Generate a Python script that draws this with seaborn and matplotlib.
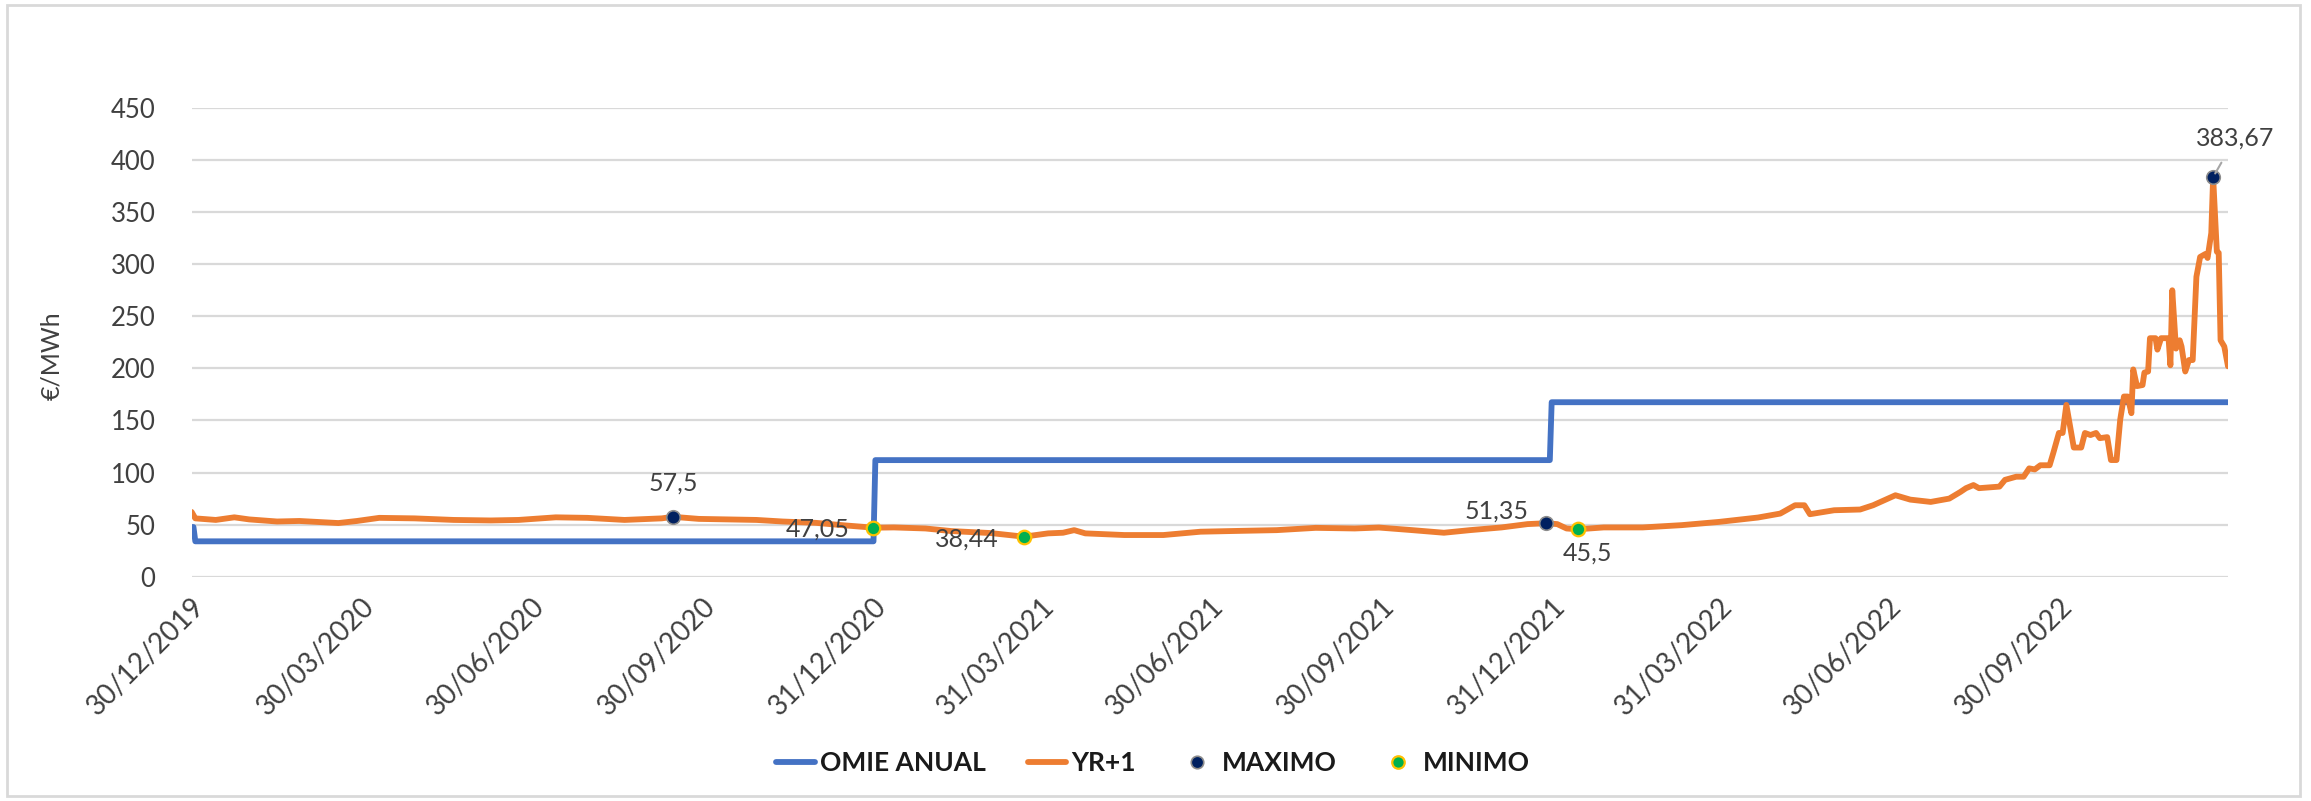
import matplotlib
matplotlib.use("Agg")
import matplotlib.pyplot as plt
from matplotlib.lines import Line2D
from matplotlib.patches import Rectangle
import seaborn as sns
import pandas as pd

# ---------------- data ----------------
omie_dates = ["2019-12-30", "2019-12-31", "2020-01-01", "2020-12-31", "2021-01-01",
              "2021-12-30", "2021-12-31", "2022-12-30"]
omie_values = [47.68, 47.68, 33.96, 33.96, 111.93, 111.93, 167.52, 167.52]

yr1_dates = [
    "2019-12-30", "2020-01-01", "2020-01-12", "2020-01-22", "2020-01-30", "2020-02-14",
    "2020-02-26", "2020-03-18", "2020-03-28", "2020-04-09", "2020-04-28", "2020-05-19",
    "2020-06-08", "2020-06-23", "2020-07-13", "2020-07-30", "2020-08-19", "2020-09-08",
    "2020-09-14", "2020-09-28", "2020-10-29", "2020-11-12", "2020-11-30", "2020-12-14",
    "2020-12-31", "2021-01-11", "2021-01-28", "2021-02-11", "2021-03-04", "2021-03-22",
    "2021-04-04", "2021-04-12", "2021-04-18", "2021-04-24", "2021-05-15", "2021-06-05",
    "2021-06-25", "2021-07-16", "2021-08-05", "2021-08-26", "2021-09-16", "2021-09-29",
    "2021-10-17", "2021-11-03", "2021-11-17", "2021-12-04", "2021-12-18", "2021-12-28",
    "2022-01-03", "2022-01-08", "2022-01-14", "2022-01-28", "2022-02-18", "2022-03-11",
    "2022-03-31", "2022-04-21", "2022-05-03", "2022-05-11", "2022-05-16", "2022-05-19",
    "2022-06-01", "2022-06-15", "2022-06-22", "2022-07-04", "2022-07-12", "2022-07-23",
    "2022-08-02", "2022-08-08", "2022-08-11", "2022-08-15", "2022-08-18", "2022-08-29",
    "2022-09-01", "2022-09-07", "2022-09-11", "2022-09-14", "2022-09-17", "2022-09-20",
    "2022-09-25", "2022-09-27", "2022-09-30", "2022-10-02", "2022-10-04", "2022-10-08",
    "2022-10-12", "2022-10-14", "2022-10-17", "2022-10-20", "2022-10-22", "2022-10-26",
    "2022-10-28", "2022-10-31", "2022-11-02", "2022-11-04", "2022-11-06", "2022-11-08",
    "2022-11-09", "2022-11-11", "2022-11-14", "2022-11-15", "2022-11-17", "2022-11-18",
    "2022-11-21", "2022-11-22", "2022-11-24", "2022-11-28", "2022-11-29", "2022-11-30",
    "2022-12-02", "2022-12-04", "2022-12-05", "2022-12-07", "2022-12-09", "2022-12-11",
    "2022-12-13", "2022-12-15", "2022-12-18", "2022-12-19", "2022-12-21", "2022-12-22",
    "2022-12-24", "2022-12-25", "2022-12-26", "2022-12-28", "2022-12-30",
]
yr1_values = [
    62.2, 56.0, 54.5, 57.0, 55.0, 53.0,
    53.5, 51.5, 53.5, 56.5, 56.0, 54.5,
    54.0, 54.5, 57.0, 56.5, 54.5, 56.0,
    57.5, 55.5, 54.5, 53.0, 51.7, 49.5,
    47.05, 47.3, 46.3, 43.8, 41.9, 38.44,
    41.6, 42.2, 44.7, 41.6, 40.0, 40.0,
    43.2, 44.0, 44.7, 46.9, 46.3, 47.2,
    44.7, 42.2, 44.7, 47.3, 50.5, 51.35,
    50.5, 46.3, 45.5, 47.3, 47.3, 49.5,
    52.6, 56.8, 60.6, 68.6, 68.6, 60.0,
    63.8, 64.5, 68.6, 78.2, 74.0, 71.8,
    75.0, 81.4, 85.0, 88.0, 85.0, 86.5,
    93.0, 96.0, 96.0, 104.0, 103.0, 107.0,
    107.0, 119.0, 138.0, 138.0, 165.0, 124.0,
    124.0, 138.0, 136.0, 138.0, 133.0, 134.0,
    112.0, 112.0, 151.0, 173.0, 173.0, 157.0,
    199.0, 183.0, 184.0, 196.0, 197.0, 229.0,
    229.0, 218.0, 229.0, 229.0, 203.0, 275.0,
    219.0, 227.0, 221.0, 197.0, 208.0, 208.0,
    288.0, 307.0, 310.0, 306.0, 330.0, 383.67,
    312.0, 311.0, 227.0, 221.0, 202.0,
]

max_dates = ["2020-09-14", "2021-12-28", "2022-12-22"]
max_values = [57.5, 51.35, 383.67]
max_labels = ["57,5", "51,35", "383,67"]

min_dates = ["2020-12-31", "2021-03-22", "2022-01-14"]
min_values = [47.05, 38.44, 45.5]
min_labels = ["47,05", "38,44", "45,5"]

tick_dates = ["2019-12-30", "2020-03-30", "2020-06-30", "2020-09-30", "2020-12-31",
              "2021-03-31", "2021-06-30", "2021-09-30", "2021-12-31", "2022-03-31",
              "2022-06-30", "2022-09-30"]
y_ticks = [0, 50, 100, 150, 200, 250, 300, 350, 400, 450]

# ---------------- style ----------------
sns.set_theme(style="white")
plt.rcParams["font.family"] = ["Lato", "DejaVu Sans"]
TXT = "#404040"
BLUE = "#4472C4"
ORANGE = "#ED7D31"
NAVY = "#002060"
GREEN = "#00B050"
GOLD = "#FFC000"
FS = 18
LW = 4.2

W, H = 2311, 801
fig = plt.figure(figsize=(W / 100, H / 100), dpi=100)
fig.patch.set_facecolor("white")

# outer border
fig.patches.append(Rectangle((7 / W, 5 / H), (2300 - 7) / W, (796 - 5) / H,
                             transform=fig.transFigure, fill=False,
                             edgecolor="#d9d9d9", linewidth=2))

left, right = 191.6 / W, 2228 / W
bottom, top = (H - 576.7) / H, (H - 108) / H
ax = fig.add_axes([left, bottom, right - left, top - bottom])

omie_df = pd.DataFrame({"date": pd.to_datetime(omie_dates), "value": omie_values})
yr1_df = pd.DataFrame({"date": pd.to_datetime(yr1_dates), "value": yr1_values})
max_df = pd.DataFrame({"date": pd.to_datetime(max_dates), "value": max_values})
min_df = pd.DataFrame({"date": pd.to_datetime(min_dates), "value": min_values})

sns.lineplot(data=omie_df, x="date", y="value", ax=ax, color=BLUE, linewidth=LW,
             sort=False, zorder=3, solid_capstyle="round", solid_joinstyle="round")
sns.lineplot(data=yr1_df, x="date", y="value", ax=ax, color=ORANGE, linewidth=LW,
             sort=False, zorder=4, solid_capstyle="round", solid_joinstyle="round")
sns.scatterplot(data=max_df, x="date", y="value", ax=ax, color=NAVY, s=95,
                edgecolor="#8c8c8c", linewidth=1.2, zorder=6)
sns.scatterplot(data=min_df, x="date", y="value", ax=ax, color=GREEN, s=95,
                edgecolor=GOLD, linewidth=1.6, zorder=6)

# annotations (offsets in points)
max_offsets = [(0, 24), (-36, 9), (16, 28)]
min_offsets = [(-40, -1), (-41, -2), (7, -17)]
for d, v, lab, off in zip(max_df["date"], max_values, max_labels, max_offsets):
    kw = {}
    if lab == "383,67":
        kw["arrowprops"] = dict(arrowstyle="-", color="#a6a6a6", lw=1.5,
                                shrinkA=8, shrinkB=3)
    ax.annotate(lab, xy=(d, v), xytext=off, textcoords="offset points",
                ha="center", va="center", fontsize=FS, color=TXT, zorder=7,
                annotation_clip=False, **kw)
for d, v, lab, off in zip(min_df["date"], min_values, min_labels, min_offsets):
    ax.annotate(lab, xy=(d, v), xytext=off, textcoords="offset points",
                ha="center", va="center", fontsize=FS, color=TXT, zorder=7,
                annotation_clip=False)

# axes
ax.set_xlim(pd.Timestamp("2019-12-30"), pd.Timestamp("2022-12-30"))
ax.set_ylim(0, 450)
ax.set_yticks(y_ticks)
ax.set_yticklabels([str(t) for t in y_ticks], fontsize=FS + 0.5, color=TXT)
tds = pd.to_datetime(tick_dates)
ax.set_xticks(tds)
ax.set_xticklabels([t.strftime("%d/%m/%Y") for t in tds], rotation=45, ha="right",
                   rotation_mode="anchor", fontsize=FS + 2, color=TXT)
ax.tick_params(axis="x", length=0, pad=12)
ax.tick_params(axis="y", length=0, pad=26)
ax.grid(axis="y", color="#d9d9d9", linewidth=1.6)
ax.grid(axis="x", visible=False)
for s in ax.spines.values():
    s.set_visible(False)
ax.set_xlabel("")
ax.set_ylabel("")
fig.text(52 / W, 1 - 356 / H, "€/MWh", rotation=90, ha="center", va="center",
         fontsize=FS, color=TXT)

# legend
handles = [
    Line2D([], [], color=BLUE, lw=LW, solid_capstyle="round"),
    Line2D([], [], color=ORANGE, lw=LW, solid_capstyle="round"),
    Line2D([], [], ls="none", marker="o", markersize=9, markerfacecolor=NAVY,
           markeredgecolor="#8c8c8c", markeredgewidth=1.2),
    Line2D([], [], ls="none", marker="o", markersize=9, markerfacecolor=GREEN,
           markeredgecolor=GOLD, markeredgewidth=1.6),
]
labels = ["OMIE ANUAL", "YR+1", "MAXIMO", "MINIMO"]
leg = fig.legend(handles, labels, loc="center", bbox_to_anchor=(1153 / W, 1 - 763 / H),
                 ncol=4, frameon=False, handlelength=1.45, handletextpad=0.2,
                 columnspacing=1.6, prop={"size": FS + 1, "weight": "bold"})
for t in leg.get_texts():
    t.set_color("#1a1a1a")

fig.savefig("out.png", dpi=100, facecolor="white")
